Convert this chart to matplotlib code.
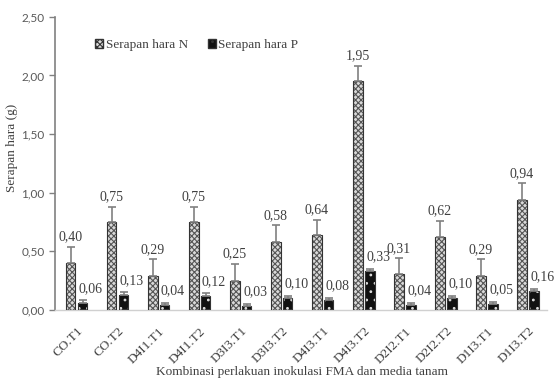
import numpy as np
import matplotlib.pyplot as plt
import matplotlib.transforms as mtransforms
from matplotlib.patches import Patch

# data
perlakuan = ["CO.T1", "CO.T2", "D4I1.T1", "D4I1.T2", "D3I3.T1", "D3I3.T2",
             "D4I3.T1", "D4I3.T2", "D2I2.T1", "D2I2.T2", "D1I3.T1", "D1I3.T2"]
serapan_n = [0.40, 0.75, 0.29, 0.75, 0.25, 0.58, 0.64, 1.95, 0.31, 0.62, 0.29, 0.94]
serapan_p = [0.06, 0.13, 0.04, 0.12, 0.03, 0.10, 0.08, 0.33, 0.04, 0.10, 0.05, 0.16]
err_n = [0.14, 0.13, 0.14, 0.13, 0.14, 0.14, 0.13, 0.13, 0.13, 0.14, 0.14, 0.14]
err_p = [0.02, 0.02, 0.02, 0.02, 0.02, 0.02, 0.02, 0.02, 0.02, 0.02, 0.02, 0.02]
yticks = [0.0, 0.5, 1.0, 1.5, 2.0, 2.5]

serif = "Liberation Serif"
txt = "#404040"
plt.rcParams["hatch.linewidth"] = 0.8

fig = plt.figure(figsize=(5.55, 3.83), dpi=100)
ax = fig.add_axes([0.099, 0.191, 0.887, 0.765])

x = np.arange(len(perlakuan))
w = 0.23
off = 0.145

def hatched_bars(xpos, vals, face, hatch, hcolor):
    ax.bar(xpos, vals, w, color=face, edgecolor="none", zorder=2)
    ax.bar(xpos, vals, w, color="none", edgecolor=hcolor, hatch=hatch, linewidth=0, zorder=3)
    ax.bar(xpos, vals, w, color="none", edgecolor="#333333", linewidth=0.8, zorder=4)

hatched_bars(x - off, serapan_n, "#d9d9d9", "xxxxxx", "#555555")
hatched_bars(x + off, serapan_p, "#111111", "..", "#dddddd")

ax.errorbar(x - off, serapan_n, yerr=[np.zeros(len(x)), err_n], fmt="none",
            ecolor="#808080", elinewidth=1.2, capsize=3, capthick=1.2, zorder=5)
ax.errorbar(x + off, serapan_p, yerr=[np.zeros(len(x)), err_p], fmt="none",
            ecolor="#808080", elinewidth=1.2, capsize=3, capthick=1.2, zorder=5)

for xi, v, e in zip(x, serapan_n, err_n):
    ax.annotate(f"{v:.2f}".replace(".", ","), (xi - off, v + e), xytext=(0, 2.5),
                textcoords="offset points", ha="center", va="bottom",
                fontsize=10, family=serif, color=txt)
for xi, v, e in zip(x, serapan_p, err_p):
    ax.annotate(f"{v:.2f}".replace(".", ","), (xi + off, v + e), xytext=(6, 4),
                textcoords="offset points", ha="center", va="bottom",
                fontsize=10, family=serif, color=txt)

ax.set_xlim(-0.53, 11.47)
ax.set_ylim(0, 2.5)
ax.set_yticks(yticks)
ax.set_yticklabels([f"{t:.2f}".replace(".", ",") for t in yticks],
                   family="Lato", fontsize=8.5, color="#595959")
ax.set_xticks(x)
ax.set_xticklabels(perlakuan, rotation=45, ha="right", rotation_mode="anchor",
                   family=serif, fontsize=9.5, color=txt)
shift = mtransforms.ScaledTranslation(4 / 100, 0, fig.dpi_scale_trans)
for lab in ax.get_xticklabels():
    lab.set_transform(lab.get_transform() + shift)
ax.tick_params(axis="x", length=0, pad=11)
ax.tick_params(axis="y", length=4, color="#808080", width=1)

for s in ["top", "right"]:
    ax.spines[s].set_visible(False)
ax.spines["left"].set_color("#808080")
ax.spines["left"].set_linewidth(1.2)
ax.spines["bottom"].set_color("#d0d0d0")
ax.spines["bottom"].set_linewidth(1)

ax.set_ylabel("Serapan hara (g)", family=serif, fontsize=9.5, color=txt)
ax.yaxis.set_label_coords(-0.075, 0.553)
fig.text(0.545, 0.012, "Kombinasi perlakuan inokulasi FMA dan media tanam",
         ha="center", va="bottom", family=serif, fontsize=9.5, color=txt)

handles = [Patch(facecolor="#d9d9d9", edgecolor="#333333", hatch="xxxxxx"),
           Patch(facecolor="#111111", edgecolor="#333333", hatch="..")]
ax.legend(handles, ["Serapan hara N", "Serapan hara P"], loc="center left",
          bbox_to_anchor=(0.058, 0.904), ncol=2, frameon=False, handlelength=0.6,
          handleheight=0.6, handletextpad=0.2, columnspacing=1.5,
          prop={"family": serif, "size": 9.5}, labelcolor=txt)

fig.savefig("out.png", dpi=100)
